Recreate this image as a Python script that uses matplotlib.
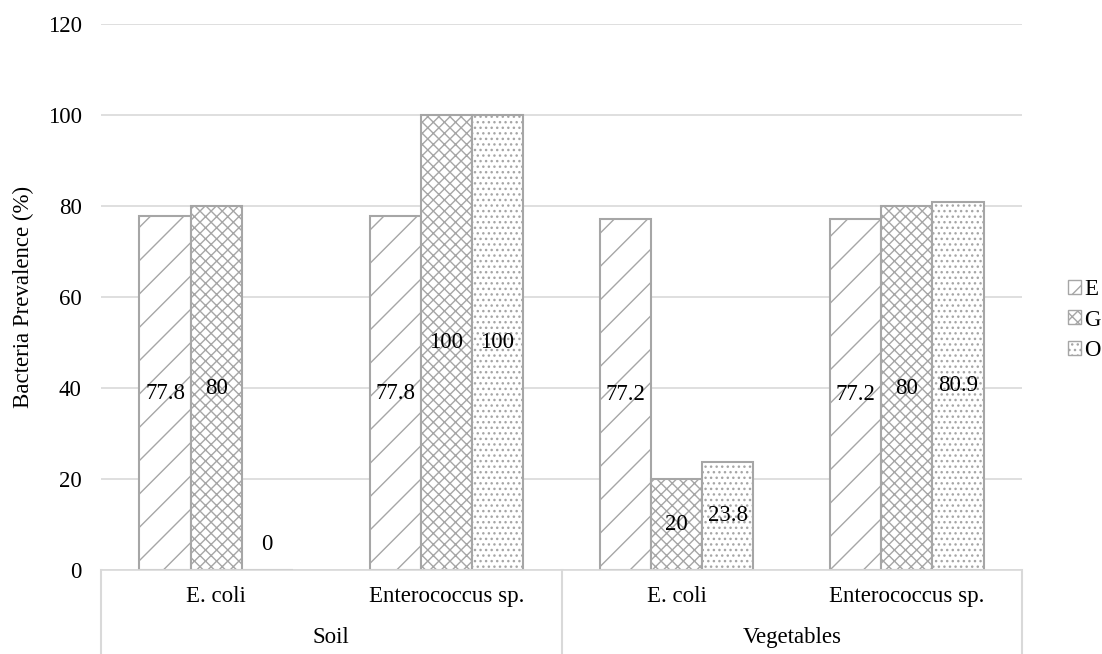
import numpy as np
import matplotlib
matplotlib.use('Agg')
import matplotlib.pyplot as plt
from matplotlib.patches import Patch

plt.rcParams['font.family'] = ['Liberation Serif', 'DejaVu Serif']
plt.rcParams['hatch.linewidth'] = 1.0

# prevalence per sample site / organism
groups = ['Soil', 'Vegetables']
organisms = ['E. coli', 'Enterococcus sp.', 'E. coli', 'Enterococcus sp.']
series = ['E', 'G', 'O']
E_vals = [77.8, 77.8, 77.2, 77.2]
G_vals = [80, 100, 20, 80]
O_vals = [0, 100, 23.8, 80.9]

hatches = ['/', 'xxx', '...']
edge = '#a6a6a6'
grid_c = '#d9d9d9'
fs = 16.5

fig = plt.figure(figsize=(11.02, 6.54), dpi=100)
ax = fig.add_axes([101 / 1102, 84 / 654, 921 / 1102, 546 / 654])

x = np.arange(len(organisms))
w = 0.222
for i, (vals, h, name) in enumerate(zip([E_vals, G_vals, O_vals], hatches, series)):
    pos = x + (i - 1) * w
    ax.bar(pos, vals, width=w, facecolor='white', edgecolor=edge,
           hatch=h, linewidth=1.5, label=name, zorder=2)
    for xb, v in zip(pos, vals):
        if v == 0:
            ax.annotate('0', (xb, 0), xytext=(0, 18), textcoords='offset points',
                        ha='center', va='center', fontsize=fs, zorder=3)
        else:
            ax.text(xb, v / 2, f'{v:g}', ha='center', va='center',
                    fontsize=fs, zorder=3)

ax.set_xlim(-0.5, len(organisms) - 0.5)
ax.set_ylim(0, 120)
ax.set_yticks(range(0, 121, 20))
ax.yaxis.grid(True, color=grid_c, linewidth=1.2, zorder=0)
ax.set_axisbelow(True)
for s in ['top', 'right', 'left']:
    ax.spines[s].set_visible(False)
ax.spines['bottom'].set_color(grid_c)
ax.spines['bottom'].set_linewidth(1.2)
ax.tick_params(axis='y', length=0, pad=14, labelsize=fs)
ax.set_xticks([])
ax.set_ylabel('Bacteria Prevalence (%)', fontsize=fs, labelpad=10)

# two-level category axis
trans = ax.get_xaxis_transform()
for xi, lab in zip(x, organisms):
    ax.text(xi, -0.049, lab, transform=trans, ha='center', va='center', fontsize=fs)
for gi, g in enumerate(groups):
    ax.text(gi * 2 + 0.5, -0.124, g, transform=trans, ha='center', va='center', fontsize=fs)
for xs in [-0.5, 1.5, 3.5]:
    ax.plot([xs, xs], [0, -0.155], transform=trans, color=grid_c, lw=1.5,
            clip_on=False)

handles = [Patch(facecolor='white', edgecolor=edge, hatch=h, label=n)
           for h, n in zip(hatches, series)]
fig.legend(handles=handles, loc='center left', bbox_to_anchor=(1052 / 1102, 1 - 320 / 654),
           frameon=False, fontsize=fs, handlelength=0.55, handleheight=0.55,
           handletextpad=0.15, labelspacing=0.42, borderpad=0.2)

fig.savefig('out.png', dpi=100)
